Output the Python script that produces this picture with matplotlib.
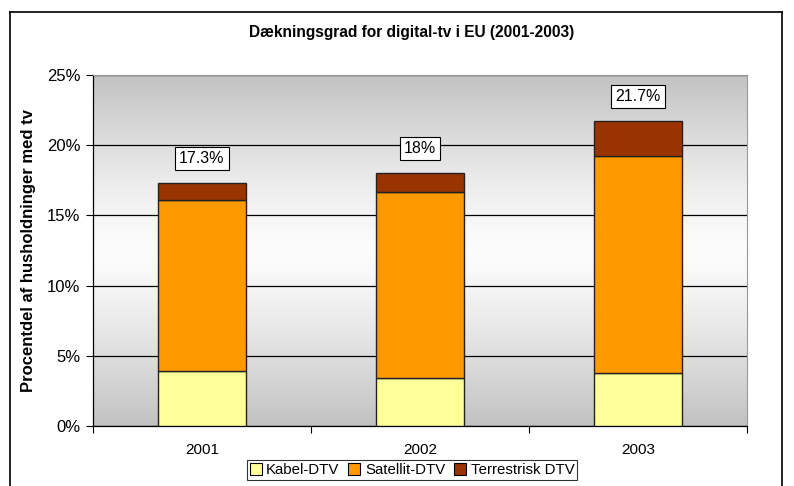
import numpy as np
import matplotlib.pyplot as plt
from matplotlib.lines import Line2D
from matplotlib.patches import Patch

plt.rcParams['font.family'] = ['Liberation Sans', 'DejaVu Sans']

years = ['2001', '2002', '2003']
kabel = [3.9, 3.4, 3.8]
satellit = [12.2, 13.3, 15.4]
terrestrisk = [1.2, 1.3, 2.5]
totals = ['17.3%', '18%', '21.7%']
series_names = ['Kabel-DTV', 'Satellit-DTV', 'Terrestrisk DTV']
colors = ['#FFFF99', '#FF9900', '#993300']

fig = plt.figure(figsize=(7.94, 4.86), dpi=100)
ax = fig.add_axes([93 / 794, 60 / 486, 654 / 794, 351 / 486])

# gradient background: grey - white - grey
g = np.abs(np.linspace(-1, 1, 256))
g = 0.99 - 0.23 * g ** 1.3
grad = np.stack([g, g, g], axis=-1)[:, None, :].repeat(2, axis=1)
ax.imshow(grad, extent=[0, 1, 0, 1], transform=ax.transAxes, aspect='auto', zorder=0)

x = np.arange(len(years))
w = 0.4
bottom2 = [a + b for a, b in zip(kabel, satellit)]
ax.bar(x, kabel, w, color=colors[0], edgecolor='#222222', linewidth=1, zorder=3)
ax.bar(x, satellit, w, bottom=kabel, color=colors[1], edgecolor='#222222', linewidth=1, zorder=3)
ax.bar(x, terrestrisk, w, bottom=bottom2, color=colors[2], edgecolor='#222222', linewidth=1, zorder=3)

for i, t in enumerate(totals):
    top = bottom2[i] + terrestrisk[i]
    ax.text(x[i], top + 1.75, t, ha='center', va='center', fontsize=11.5, zorder=5,
            bbox=dict(boxstyle='square,pad=0.25', facecolor='white', edgecolor='black', linewidth=0.8))

ax.set_xlim(-0.5, 2.5)
ax.set_ylim(0, 25)
ax.set_yticks([0, 5, 10, 15, 20, 25])
ax.set_yticklabels([f'{v}%' for v in range(0, 30, 5)], fontsize=12)
ax.set_xticks(x)
ax.set_xticklabels(years, fontsize=11)
ax.set_xticks([-0.5, 0.5, 1.5, 2.5], minor=True)
ax.tick_params(axis='x', which='major', length=0, pad=12)
ax.tick_params(axis='x', which='minor', length=5, width=0.8, direction='out')
ax.tick_params(axis='y', length=5, width=0.8, direction='out', pad=4)
ax.grid(axis='y', color='black', linewidth=0.9, zorder=1)
ax.set_axisbelow(True)
for s in ['top', 'right']:
    ax.spines[s].set_color('#999999')
for s in ['left', 'bottom']:
    ax.spines[s].set_color('black')
    ax.spines[s].set_linewidth(0.9)

ax.set_ylabel('Procentdel af husholdninger med tv', fontsize=12, fontweight='bold', labelpad=8)
fig.text(412 / 794, 1 - 33 / 486, 'Dækningsgrad for digital-tv i EU (2001-2003)',
         ha='center', va='center', fontsize=11.2, fontweight='bold')

handles = [Patch(facecolor=c, edgecolor='black', linewidth=0.8) for c in colors]
leg = fig.legend(handles, series_names, loc='center', bbox_to_anchor=(412 / 794, 1 - 470 / 486),
                 ncol=3, fontsize=10.8, frameon=True, fancybox=False, handlelength=0.8,
                 handleheight=0.8, handletextpad=0.3, columnspacing=0.6, borderpad=0.2,
                 borderaxespad=0)
leg.get_frame().set_edgecolor('black')
leg.get_frame().set_linewidth(0.8)

# outer chart frame
fig.add_artist(Line2D([10 / 794, 10 / 794], [0, 1 - 12 / 486], color='black', lw=1.2))
fig.add_artist(Line2D([10 / 794, 782 / 794], [1 - 12 / 486, 1 - 12 / 486], color='black', lw=1.2))
fig.add_artist(Line2D([782 / 794, 782 / 794], [0, 1 - 12 / 486], color='black', lw=1.2))

fig.savefig('out.png', dpi=100)
